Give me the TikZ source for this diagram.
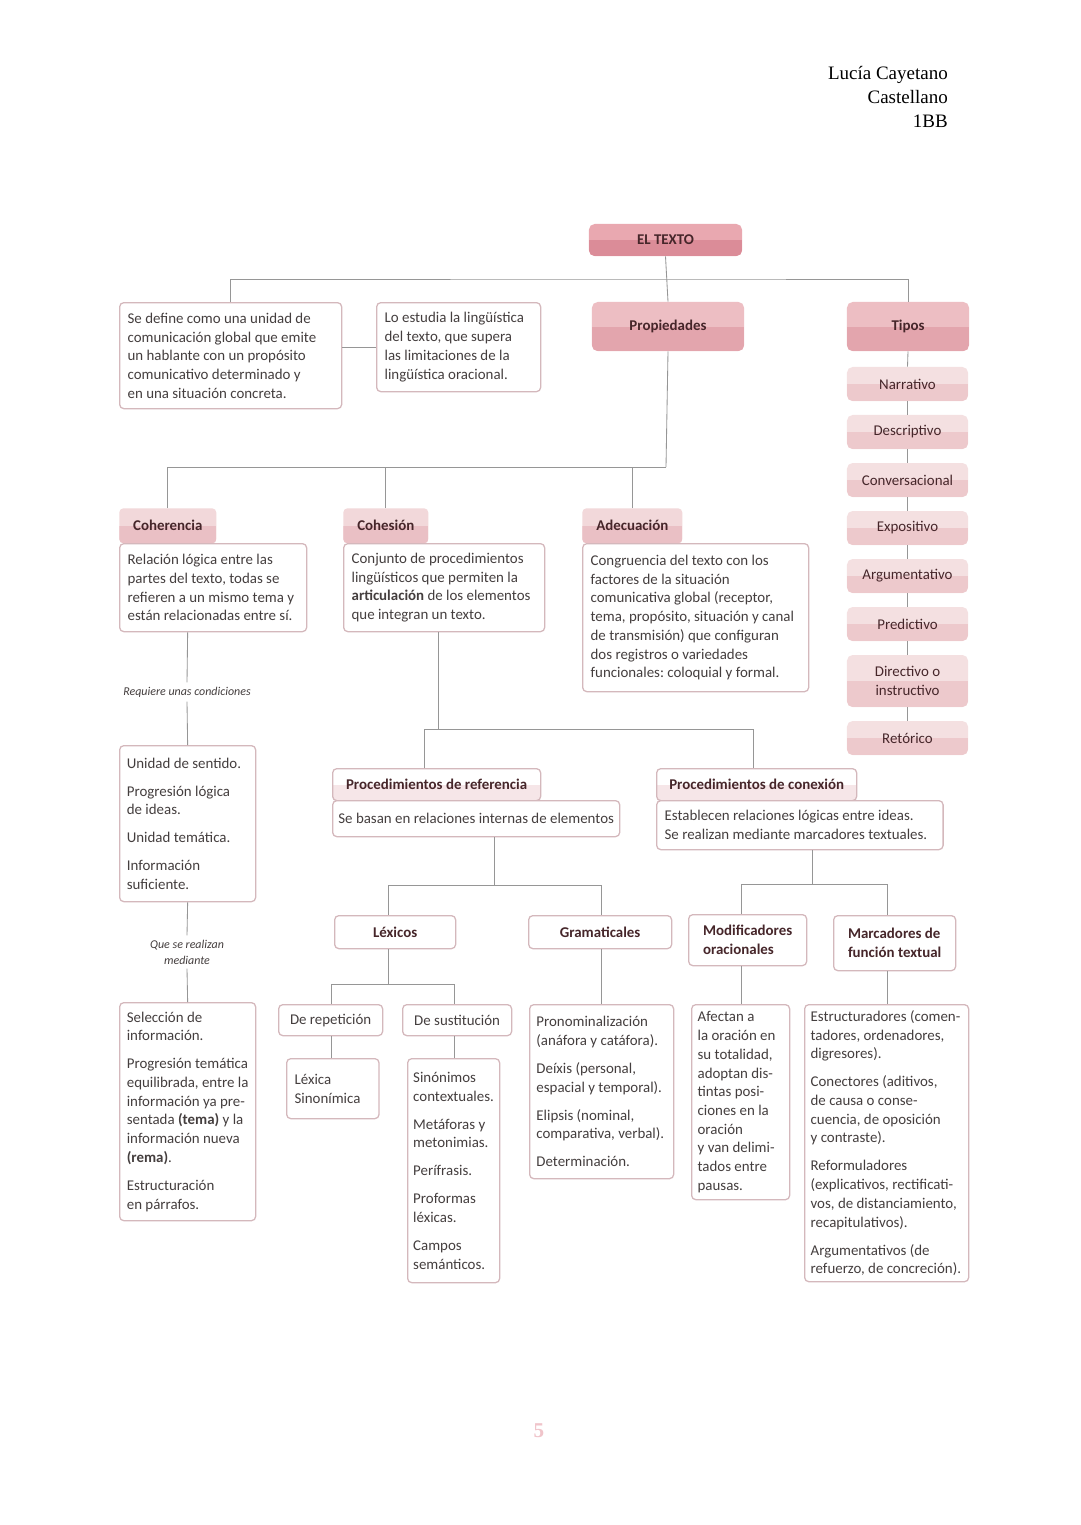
\documentclass[tikz,border=0pt]{standalone}
\usepackage{fontspec}
\setmainfont{Carlito}
\newfontfamily\hdrfont{Liberation Serif}
\usetikzlibrary{positioning}
\frenchspacing
\definecolor{LineClr}{RGB}{150,150,150}
\definecolor{BoxClr}{RGB}{212,184,188}
\definecolor{TxtClr}{RGB}{68,62,62}
\definecolor{HeadTxt}{RGB}{70,38,42}
\definecolor{MainLight}{RGB}{233,168,176}
\definecolor{MainDark}{RGB}{219,140,152}
\definecolor{HeadLight}{RGB}{237,190,195}
\definecolor{HeadDark}{RGB}{227,165,173}
\definecolor{TypeLight}{RGB}{244,224,225}
\definecolor{TypeDark}{RGB}{237,201,204}
\definecolor{TabLight}{RGB}{242,216,218}
\definecolor{TabDark}{RGB}{234,192,197}
\definecolor{TabPale}{RGB}{246,230,232}
\definecolor{PageClr}{RGB}{240,196,202}
\newcommand\bodysize{\fontsize{10.6}{13.3}\selectfont}
\newcommand\itemgap{\\[6.6pt]}

\tikzset{
  conn/.style={draw=LineClr, line width=0.6pt},
  twotone/.style 2 args={fill=#1, path picture={\fill[#2, sharp corners] (path picture bounding box.west) rectangle (path picture bounding box.south east);}},
  mainbox/.style={twotone={MainLight}{MainDark}, rounded corners=4pt, font=\bodysize\bfseries, text=HeadTxt},
  headbox/.style={twotone={HeadLight}{HeadDark}, rounded corners=4pt, minimum height=1.225cm, font=\bodysize\bfseries, text=HeadTxt},
  typebox/.style={twotone={TypeLight}{TypeDark}, rounded corners=4pt, minimum width=3.025cm, minimum height=0.85cm, align=center, font=\bodysize, text=HeadTxt},
  tab/.style={twotone={TabLight}{TabDark}, rounded corners=3pt, anchor=north west, minimum height=0.875cm, font=\bodysize\bfseries, text=HeadTxt},
  proctab/.style={draw=BoxClr, line width=0.9pt, twotone={white}{TabPale}, rounded corners=3pt, anchor=north west, minimum height=0.8cm, font=\bodysize\bfseries, text=HeadTxt},
  txtbox/.style={draw=BoxClr, line width=0.9pt, fill=white, rounded corners=3pt, anchor=north west, align=flush left, inner xsep=0.2cm, inner ysep=0.12cm, font=\bodysize, text=TxtClr, execute at begin node={\spaceskip=0pt\xspaceskip=0pt\rightskip=0pt plus 1fil\relax}},
  subhead/.style={draw=BoxClr, line width=0.9pt, fill=white, rounded corners=3pt, anchor=north west, align=left, font=\bodysize\bfseries, text=HeadTxt},
  linebox/.style={draw=BoxClr, line width=0.9pt, fill=white, rounded corners=3pt, anchor=north west, font=\bodysize, text=TxtClr},
  note/.style={font=\fontsize{8.5}{11.3}\selectfont\itshape, text=TxtClr, align=center, inner sep=3pt}
}

\begin{document}
\begin{tikzpicture}[x=0.025cm,y=-0.025cm]
\useasboundingbox[fill=white] (0,0) rectangle (1080,1525);

% author
\node[anchor=north east, align=right, inner sep=0, font=\hdrfont\fontsize{13.5}{17}\selectfont] (autor) at (948,66) {Lucía Cayetano\\Castellano\\1BB};

% top level
\node[mainbox, minimum width=3.825cm, minimum height=0.8cm] (texto) at (665.5,240) {EL TEXTO};
\node[headbox, minimum width=3.8cm] (prop) at (668,326.5) {Propiedades};
\node[headbox, minimum width=3.05cm] (tipos) at (908,326.5) {Tipos};

\node[txtbox, text width=5.15cm, minimum height=2.65cm] (def) at (119,302) {Se define como una unidad de\\comunicación global que emite\\un hablante con un propósito\\comunicativo determinado y\\en una situación concreta.};
\node[txtbox, text width=3.7cm, minimum height=2.225cm] (lo) at (376,302) {Lo estudia la lingüística\\del texto, que supera\\las limitaciones de la\\lingüística oracional.};

% tipos
\node[typebox] (t1) at (907.5,384) {Narrativo};
\node[typebox] (t2) at (907.5,432) {Descriptivo};
\node[typebox] (t3) at (907.5,480) {Conversacional};
\node[typebox] (t4) at (907.5,528) {Expositivo};
\node[typebox] (t5) at (907.5,576) {Argumentativo};
\node[typebox] (t6) at (907.5,624) {Predictivo};
\node[typebox, minimum height=1.3cm] (t7) at (907.5,681) {Directivo o\\instructivo};
\node[typebox] (t8) at (907.5,738) {Retórico};

% propiedades
\node[tab, minimum width=2.425cm] (cohtab) at (119,508) {Coherencia};
\node[txtbox, text width=4.275cm, minimum height=2.2cm] (cohbox) at (119,543) {Relación lógica entre las\\partes del texto, todas se\\refieren a un mismo tema y\\están relacionadas entre sí.};
\node[tab, minimum width=2.125cm] (cohetab) at (343,508) {Cohesión};
\node[txtbox, text width=4.625cm, minimum height=2.2cm] (cohebox) at (343,543) {Conjunto de procedimientos\\lingüísticos que permiten la\\\textbf{articulación} de los elementos\\que integran un texto.};
\node[tab, minimum width=2.5cm] (adectab) at (582,508) {Adecuación};
\node[txtbox, text width=5.25cm, minimum height=3.7cm] (adecbox) at (582,543) {Congruencia del texto con los\\factores de la situación\\comunicativa global (receptor,\\tema, propósito, situación y canal\\de transmisión) que configuran\\dos registros o variedades\\funcionales: coloquial y formal.};

% coherencia
\node[note] (req) at (187,692) {Requiere unas condiciones};
\node[txtbox, inner xsep=0.18cm, text width=3.04cm, minimum height=3.9cm] (cond) at (119,745) {Unidad de sentido.\itemgap Progresión lógica\\de ideas.\itemgap Unidad temática.\itemgap Información\\suficiente.};
\node[note] (real) at (187,952) {Que se realizan\\mediante};
\node[txtbox, inner xsep=0.18cm, text width=3.04cm, minimum height=5.45cm] (med) at (119,1002) {Selección de\\información.\itemgap Progresión temática\\equilibrada, entre la\\información ya pre-\\sentada \textbf{(tema)} y la\\información nueva\\\textbf{(rema)}.\itemgap Estructuración\\en párrafos.};

% cohesion
\node[proctab, minimum width=5.2cm] (reftab) at (332,768) {Procedimientos de referencia};
\node[linebox, minimum width=7.175cm, minimum height=0.9cm] (refbox) at (332,800) {Se basan en relaciones internas de elementos};
\node[proctab, minimum width=5cm] (contab) at (656,768) {Procedimientos de conexión};
\node[txtbox, text width=6.76cm, minimum height=1.225cm] (conbox) at (656,800) {Establecen relaciones lógicas entre ideas.\\Se realizan mediante marcadores textuales.};

\node[subhead, minimum width=3.025cm, minimum height=0.825cm] (lex) at (334,915) {Léxicos};
\node[subhead, minimum width=3.575cm, minimum height=0.825cm] (gram) at (528,915) {Gramaticales};
\node[subhead, minimum width=2.95cm, minimum height=1.275cm] (modif) at (688,914) {Modificadores\\oracionales};
\node[subhead, minimum width=3.05cm, minimum height=1.375cm] (marc) at (833,915) {Marcadores de\\función textual};

\node[linebox, minimum width=2.6cm, minimum height=0.775cm] (rep) at (278,1004) {De repetición};
\node[linebox, minimum width=2.725cm, minimum height=0.775cm] (sust) at (402,1004) {De sustitución};
\node[txtbox, text width=1.91cm, minimum height=1.5cm] (lexica) at (286,1058) {Léxica\\Sinonímica};
\node[txtbox, inner xsep=0.14cm, text width=2.02cm, minimum height=5.6cm] (sinon) at (407,1058) {Sinónimos\\contextuales.\itemgap Metáforas y\\metonimias.\itemgap Perífrasis.\itemgap Proformas\\léxicas.\itemgap Campos\\semánticos.};
\node[txtbox, inner xsep=0.17cm, text width=3.26cm, minimum height=4.35cm] (pron) at (529,1004) {Pronominalización\\(anáfora y catáfora).\itemgap Deíxis (personal,\\espacial y temporal).\itemgap Elipsis (nominal,\\comparativa, verbal).\itemgap Determinación.};
\node[txtbox, inner xsep=0.15cm, text width=2.15cm, minimum height=4.875cm] (afect) at (691,1004) {Afectan a\\la oración en\\su totalidad,\\adoptan dis-\\tintas posi-\\ciones en la\\oración\\y van delimi-\\tados entre\\pausas.};
\node[txtbox, inner xsep=0.15cm, text width=3.8cm, minimum height=6.925cm] (estr) at (804,1004) {Estructuradores (comen-\\tadores, ordenadores,\\digresores).\itemgap Conectores (aditivos,\\de causa o conse-\\cuencia, de oposición\\y contraste).\itemgap Reformuladores\\(explicativos, rectificati-\\vos, de distanciamiento,\\recapitulativos).\itemgap Argumentativos (de\\refuerzo, de concreción).};

\node[font=\hdrfont\bfseries\fontsize{15}{15}\selectfont, text=PageClr] (pnum) at (539,1431) {5};

% junctions
\coordinate (j1) at (666,279);
\coordinate (j2) at (666,467);
\coordinate (j3) at (438,729);
\coordinate (j3a) at (424,729);
\coordinate (j3b) at (753,729);
\coordinate (j4) at (494,885);
\coordinate (j4a) at (388,885);
\coordinate (j4b) at (601,885);
\coordinate (j5) at (812,884);
\coordinate (j5a) at (741,884);
\coordinate (j5b) at (887,884);
\coordinate (j6) at (388,984);
\coordinate (j6a) at (331,984);
\coordinate (j6b) at (454,984);

% connectors
\draw[conn] (texto.south) -- (prop.north);
\draw[conn] (def.north) |- (j1) -| (tipos.north);
\draw[conn] (def.east |- lo.west) -- (lo.west);
\foreach \a/\b in {tipos/t1,t1/t2,t2/t3,t3/t4,t4/t5,t5/t6,t6/t7,t7/t8}
  \draw[conn] (\a.south) -- (\b.north);
\draw[conn] (prop.south) -- (j2);
\draw[conn] (cohtab.north) |- (j2);
\draw[conn] (cohetab.north) -- (cohetab.north |- j2);
\draw[conn] (adectab.north) -- (adectab.north |- j2);

\draw[conn] (cohbox.south -| cond.north) -- (req.north);
\draw[conn] (req.south) -- (cond.north);
\draw[conn] (cond.south) -- (real.north);
\draw[conn] (real.south) -- (med.north);

\draw[conn] (j3 |- cohebox.south) -- (j3);
\draw[conn] (j3a |- reftab.north) -- (j3a) -- (j3b) -- (j3b |- contab.north);
\draw[conn] (j4 |- refbox.south) -- (j4);
\draw[conn] (j4a |- lex.north) -- (j4a) -- (j4b) -- (j4b |- gram.north);
\draw[conn] (j5 |- conbox.south) -- (j5);
\draw[conn] (j5a |- modif.north) -- (j5a) -- (j5b) -- (j5b |- marc.north);
\draw[conn] (j6 |- lex.south) -- (j6);
\draw[conn] (j6a |- rep.north) -- (j6a) -- (j6b) -- (j6b |- sust.north);
\draw[conn] (rep.south -| j6a) -- (lexica.north -| j6a);
\draw[conn] (sust.south -| j6b) -- (sinon.north -| j6b);
\draw[conn] (gram.south -| j4b) -- (pron.north -| j4b);
\draw[conn] (modif.south -| j5a) -- (afect.north -| j5a);
\draw[conn] (marc.south -| j5b) -- (estr.north -| j5b);

\end{tikzpicture}
\end{document}
